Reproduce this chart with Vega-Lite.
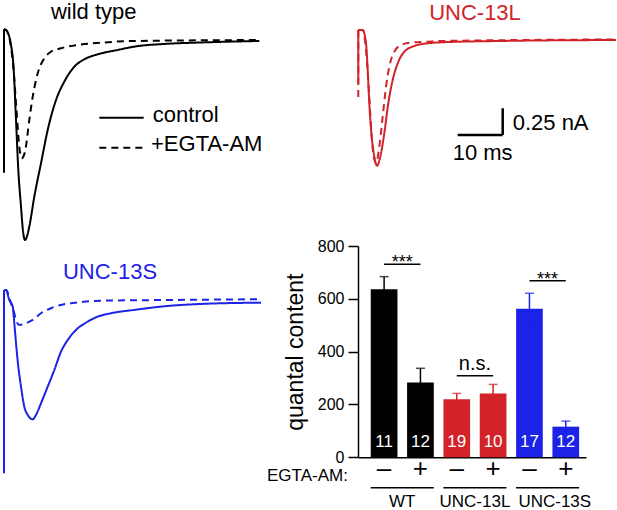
{
  "$schema": "https://vega.github.io/schema/vega-lite/v6.json",
  "padding": 0,
  "background": "white",
  "config": {"view": {"stroke": null}, "font": "Liberation Sans", "text": {"font": "Liberation Sans"}},
  "datasets": {
    "traces": [
      {"g":"WT","c":"control","t":0,"i":0.11},{"g":"WT","c":"control","t":0.44,"i":0.103},{"g":"WT","c":"control","t":1.56,"i":-0.037},{"g":"WT","c":"control","t":2.16,"i":-0.272},{"g":"WT","c":"control","t":2.67,"i":-0.74},{"g":"WT","c":"control","t":3.18,"i":-1.209},{"g":"WT","c":"control","t":3.78,"i":-1.553},{"g":"WT","c":"control","t":4.22,"i":-1.78},{"g":"WT","c":"control","t":4.67,"i":-1.865},{"g":"WT","c":"control","t":5.11,"i":-1.83},{"g":"WT","c":"control","t":5.62,"i":-1.74},{"g":"WT","c":"control","t":6.73,"i":-1.459},{"g":"WT","c":"control","t":8.22,"i":-1.146},{"g":"WT","c":"control","t":9.71,"i":-0.834},{"g":"WT","c":"control","t":11.56,"i":-0.553},{"g":"WT","c":"control","t":13.4,"i":-0.381},{"g":"WT","c":"control","t":15.62,"i":-0.241},{"g":"WT","c":"control","t":17.84,"i":-0.172},{"g":"WT","c":"control","t":20.82,"i":-0.125},{"g":"WT","c":"control","t":25.27,"i":-0.084},{"g":"WT","c":"control","t":28.96,"i":-0.053},{"g":"WT","c":"control","t":36.38,"i":-0.026},{"g":"WT","c":"control","t":43.78,"i":-0.014},{"g":"WT","c":"control","t":56.73,"i":0},
      {"g":"WT","c":"EGTA","t":0,"i":0.11},{"g":"WT","c":"EGTA","t":0.44,"i":0.103},{"g":"WT","c":"EGTA","t":1.93,"i":-0.178},{"g":"WT","c":"EGTA","t":2.67,"i":-0.584},{"g":"WT","c":"EGTA","t":3.4,"i":-0.991},{"g":"WT","c":"EGTA","t":3.93,"i":-1.099},{"g":"WT","c":"EGTA","t":4.67,"i":-1.037},{"g":"WT","c":"EGTA","t":5.62,"i":-0.74},{"g":"WT","c":"EGTA","t":6.38,"i":-0.522},{"g":"WT","c":"EGTA","t":7.49,"i":-0.303},{"g":"WT","c":"EGTA","t":8.96,"i":-0.162},{"g":"WT","c":"EGTA","t":10.44,"i":-0.1},{"g":"WT","c":"EGTA","t":12.67,"i":-0.068},{"g":"WT","c":"EGTA","t":16.38,"i":-0.037},{"g":"WT","c":"EGTA","t":21.56,"i":-0.016},{"g":"WT","c":"EGTA","t":28.9,"i":0},{"g":"WT","c":"EGTA","t":56.73,"i":0.009},
      {"g":"L","c":"control","t":0,"i":0.094},{"g":"L","c":"control","t":0.98,"i":0.094},{"g":"L","c":"control","t":1.71,"i":-0.031},{"g":"L","c":"control","t":2.09,"i":-0.281},{"g":"L","c":"control","t":2.44,"i":-0.593},{"g":"L","c":"control","t":2.98,"i":-0.906},{"g":"L","c":"control","t":3.56,"i":-1.094},{"g":"L","c":"control","t":4.16,"i":-1.178},{"g":"L","c":"control","t":4.89,"i":-1.094},{"g":"L","c":"control","t":5.78,"i":-0.874},{"g":"L","c":"control","t":6.67,"i":-0.593},{"g":"L","c":"control","t":7.64,"i":-0.375},{"g":"L","c":"control","t":8.76,"i":-0.218},{"g":"L","c":"control","t":10.22,"i":-0.11},{"g":"L","c":"control","t":12.44,"i":-0.056},{"g":"L","c":"control","t":15.42,"i":-0.031},{"g":"L","c":"control","t":18.38,"i":-0.022},{"g":"L","c":"control","t":31.7,"i":-0.009},{"g":"L","c":"control","t":57.27,"i":0},
      {"g":"L","c":"EGTA","t":0,"i":0.094},{"g":"L","c":"EGTA","t":0.98,"i":0.094},{"g":"L","c":"EGTA","t":1.71,"i":-0.094},{"g":"L","c":"EGTA","t":2.44,"i":-0.531},{"g":"L","c":"EGTA","t":2.98,"i":-0.906},{"g":"L","c":"EGTA","t":3.42,"i":-1.094},{"g":"L","c":"EGTA","t":3.93,"i":-1.156},{"g":"L","c":"EGTA","t":4.67,"i":-1.0},{"g":"L","c":"EGTA","t":5.42,"i":-0.719},{"g":"L","c":"EGTA","t":6.16,"i":-0.438},{"g":"L","c":"EGTA","t":6.89,"i":-0.25},{"g":"L","c":"EGTA","t":8.0,"i":-0.11},{"g":"L","c":"EGTA","t":9.49,"i":-0.047},{"g":"L","c":"EGTA","t":11.71,"i":-0.025},{"g":"L","c":"EGTA","t":15.42,"i":-0.016},{"g":"L","c":"EGTA","t":18.38,"i":-0.009},{"g":"L","c":"EGTA","t":57.27,"i":0.005},
      {"g":"S","c":"control","t":0,"i":0.103},{"g":"S","c":"control","t":0.44,"i":0.103},{"g":"S","c":"control","t":1.18,"i":0.009},{"g":"S","c":"control","t":1.93,"i":-0.053},{"g":"S","c":"control","t":2.29,"i":-0.209},{"g":"S","c":"control","t":2.67,"i":-0.396},{"g":"S","c":"control","t":3.18,"i":-0.616},{"g":"S","c":"control","t":3.78,"i":-0.803},{"g":"S","c":"control","t":4.51,"i":-0.991},{"g":"S","c":"control","t":5.27,"i":-1.068},{"g":"S","c":"control","t":6.38,"i":-1.109},{"g":"S","c":"control","t":7.11,"i":-1.068},{"g":"S","c":"control","t":8.22,"i":-0.959},{"g":"S","c":"control","t":9.71,"i":-0.803},{"g":"S","c":"control","t":11.18,"i":-0.647},{"g":"S","c":"control","t":12.67,"i":-0.475},{"g":"S","c":"control","t":14.16,"i":-0.366},{"g":"S","c":"control","t":16.0,"i":-0.272},{"g":"S","c":"control","t":18.6,"i":-0.194},{"g":"S","c":"control","t":20.82,"i":-0.147},{"g":"S","c":"control","t":23.78,"i":-0.115},{"g":"S","c":"control","t":28.96,"i":-0.084},{"g":"S","c":"control","t":36.38,"i":-0.047},{"g":"S","c":"control","t":43.78,"i":-0.028},{"g":"S","c":"control","t":57.11,"i":-0.016},
      {"g":"S","c":"EGTA","t":0,"i":0.103},{"g":"S","c":"EGTA","t":0.44,"i":0.103},{"g":"S","c":"EGTA","t":1.56,"i":-0.022},{"g":"S","c":"EGTA","t":2.29,"i":-0.115},{"g":"S","c":"EGTA","t":2.67,"i":-0.178},{"g":"S","c":"EGTA","t":3.4,"i":-0.225},{"g":"S","c":"EGTA","t":4.89,"i":-0.209},{"g":"S","c":"EGTA","t":6.38,"i":-0.178},{"g":"S","c":"EGTA","t":8.22,"i":-0.115},{"g":"S","c":"EGTA","t":10.44,"i":-0.068},{"g":"S","c":"EGTA","t":12.67,"i":-0.037},{"g":"S","c":"EGTA","t":14.89,"i":-0.022},{"g":"S","c":"EGTA","t":21.56,"i":0.003},{"g":"S","c":"EGTA","t":36.38,"i":0.009},{"g":"S","c":"EGTA","t":57.11,"i":0.016}
    ],
    "artifacts": [
      {"g":"WT","c":"control","t":0,"top":0.11,"bot":-1.234},
      {"g":"L","c":"EGTA","t":0,"top":0.094,"bot":-0.562},
      {"g":"L","c":"control","t":0,"top":0.094,"bot":-0.406},
      {"g":"S","c":"control","t":0,"top":0.103,"bot":-1.615}
    ],
    "bars": [
      {"k":"WT –","g":"WT","egta":"–","v":636,"lo":590,"hi":684,"n":11},
      {"k":"WT +","g":"WT","egta":"+","v":283,"lo":230,"hi":337,"n":12},
      {"k":"L –","g":"L","egta":"–","v":220,"lo":198,"hi":242,"n":19},
      {"k":"L +","g":"L","egta":"+","v":242,"lo":208,"hi":276,"n":10},
      {"k":"S –","g":"S","egta":"–","v":562,"lo":503,"hi":621,"n":17},
      {"k":"S +","g":"S","egta":"+","v":116,"lo":95,"hi":137,"n":12}
    ],
    "sig": [
      {"a":"WT –","b":"WT +","h":731,"label":"***"},
      {"a":"L –","b":"L +","h":309,"label":"n.s."},
      {"a":"S –","b":"S +","h":668,"label":"***"}
    ],
    "groups": [
      {"a":"WT –","b":"WT +","name":"WT"},
      {"a":"L –","b":"L +","name":"UNC-13L"},
      {"a":"S –","b":"S +","name":"UNC-13S"}
    ]
  },
  "columns": 2,
  "spacing": 0,
  "bounds": "flush",
  "concat": [
        {
          "width": 357, "height": 246,
          "layer": [
            {"data": {"name": "artifacts"}, "transform": [{"filter": "datum.g === 'WT'"}],
             "mark": {"type": "rule", "color": "#000000", "strokeWidth": 2},
             "encoding": {
               "x": {"field": "t", "type": "quantitative", "scale": {"domain": [-0.667, 78.67], "nice": false, "zero": false}, "axis": null},
               "y": {"field": "top", "type": "quantitative", "scale": {"domain": [-1.921, 0.384], "nice": false, "zero": false}, "axis": null},
               "y2": {"field": "bot"},
               "strokeDash": {"field": "c", "type": "nominal", "scale": {"domain": ["control", "EGTA"], "range": [[1, 0], [7, 5]]}, "legend": null}}},
            {"data": {"name": "traces"}, "transform": [{"filter": "datum.g === 'WT'"}],
             "mark": {"type": "line", "color": "#000000", "strokeWidth": 2, "interpolate": "monotone"},
             "encoding": {
               "x": {"field": "t", "type": "quantitative", "scale": {"domain": [-0.667, 78.67], "nice": false, "zero": false}, "axis": null},
               "y": {"field": "i", "type": "quantitative", "scale": {"domain": [-1.921, 0.384], "nice": false, "zero": false}, "axis": null},
               "strokeDash": {"field": "c", "type": "nominal", "scale": {"domain": ["control", "EGTA"], "range": [[1, 0], [7, 5]]}, "legend": null}}},
            {"data": {"values": [{}]},
             "mark": {"type": "rule", "color": "#000000", "strokeWidth": 2},
             "encoding": {
               "x": {"datum": 21.18, "type": "quantitative", "scale": {"domain": [-0.667, 78.67], "nice": false, "zero": false}, "axis": null},
               "x2": {"datum": 31.04},
               "y": {"datum": -0.719, "type": "quantitative", "scale": {"domain": [-1.921, 0.384], "nice": false, "zero": false}, "axis": null}}},
            {"data": {"values": [{}]},
             "mark": {"type": "rule", "color": "#000000", "strokeWidth": 2, "strokeDash": [7, 5]},
             "encoding": {
               "x": {"datum": 21.18, "type": "quantitative", "scale": {"domain": [-0.667, 78.67], "nice": false, "zero": false}, "axis": null},
               "x2": {"datum": 31.04},
               "y": {"datum": -1.0, "type": "quantitative", "scale": {"domain": [-1.921, 0.384], "nice": false, "zero": false}, "axis": null}}},
            {"data": {"values": [{}]},
             "mark": {"type": "text", "text": "control", "fontSize": 22, "align": "left", "baseline": "alphabetic", "color": "#000000"},
             "encoding": {
               "x": {"datum": 33.04, "type": "quantitative", "scale": {"domain": [-0.667, 78.67], "nice": false, "zero": false}, "axis": null},
               "y": {"datum": -0.762, "type": "quantitative", "scale": {"domain": [-1.921, 0.384], "nice": false, "zero": false}, "axis": null}}},
            {"data": {"values": [{}]},
             "mark": {"type": "text", "text": "+EGTA-AM", "fontSize": 22, "align": "left", "baseline": "alphabetic", "color": "#000000"},
             "encoding": {
               "x": {"datum": 32.67, "type": "quantitative", "scale": {"domain": [-0.667, 78.67], "nice": false, "zero": false}, "axis": null},
               "y": {"datum": -1.031, "type": "quantitative", "scale": {"domain": [-1.921, 0.384], "nice": false, "zero": false}, "axis": null}}},
            {"data": {"values": [{}]},
             "mark": {"type": "text", "text": "wild type", "fontSize": 22, "align": "center", "baseline": "alphabetic", "color": "#000000"},
             "encoding": {
               "x": {"datum": 19.93, "type": "quantitative", "scale": {"domain": [-0.667, 78.67], "nice": false, "zero": false}, "axis": null},
               "y": {"datum": 0.206, "type": "quantitative", "scale": {"domain": [-1.921, 0.384], "nice": false, "zero": false}, "axis": null}}}
          ]
        },
        {
          "width": 260, "height": 246,
          "layer": [
            {"data": {"name": "artifacts"}, "transform": [{"filter": "datum.g === 'L'"}],
             "mark": {"type": "rule", "color": "#d2232a", "strokeWidth": 2},
             "encoding": {
               "x": {"field": "t", "type": "quantitative", "scale": {"domain": [-0.067, 57.71], "nice": false, "zero": false}, "axis": null},
               "y": {"field": "top", "type": "quantitative", "scale": {"domain": [-1.931, 0.375], "nice": false, "zero": false}, "axis": null},
               "y2": {"field": "bot"},
               "strokeDash": {"field": "c", "type": "nominal", "scale": {"domain": ["control", "EGTA"], "range": [[1, 0], [7, 5]]}, "legend": null}}},
            {"data": {"name": "traces"}, "transform": [{"filter": "datum.g === 'L'"}],
             "mark": {"type": "line", "color": "#d2232a", "strokeWidth": 2, "interpolate": "monotone"},
             "encoding": {
               "x": {"field": "t", "type": "quantitative", "scale": {"domain": [-0.067, 57.71], "nice": false, "zero": false}, "axis": null},
               "y": {"field": "i", "type": "quantitative", "scale": {"domain": [-1.931, 0.375], "nice": false, "zero": false}, "axis": null},
               "strokeDash": {"field": "c", "type": "nominal", "scale": {"domain": ["control", "EGTA"], "range": [[1, 0], [7, 5]]}, "legend": null}}},
            {"data": {"values": [{}]},
             "mark": {"type": "rule", "color": "#000000", "strokeWidth": 2.5},
             "encoding": {
               "x": {"datum": 22.09, "type": "quantitative", "scale": {"domain": [-0.067, 57.71], "nice": false, "zero": false}, "axis": null},
               "x2": {"datum": 32.09},
               "y": {"datum": -0.89, "type": "quantitative", "scale": {"domain": [-1.931, 0.375], "nice": false, "zero": false}, "axis": null}}},
            {"data": {"values": [{}]},
             "mark": {"type": "rule", "color": "#000000", "strokeWidth": 2.5},
             "encoding": {
               "x": {"datum": 32.09, "type": "quantitative", "scale": {"domain": [-0.067, 57.71], "nice": false, "zero": false}, "axis": null},
               "y": {"datum": -0.89, "type": "quantitative", "scale": {"domain": [-1.931, 0.375], "nice": false, "zero": false}, "axis": null},
               "y2": {"datum": -0.64}}},
            {"data": {"values": [{}]},
             "mark": {"type": "text", "text": "0.25 nA", "fontSize": 22, "align": "left", "baseline": "alphabetic", "color": "#000000"},
             "encoding": {
               "x": {"datum": 34.31, "type": "quantitative", "scale": {"domain": [-0.067, 57.71], "nice": false, "zero": false}, "axis": null},
               "y": {"datum": -0.843, "type": "quantitative", "scale": {"domain": [-1.931, 0.375], "nice": false, "zero": false}, "axis": null}}},
            {"data": {"values": [{}]},
             "mark": {"type": "text", "text": "10 ms", "fontSize": 22, "align": "left", "baseline": "alphabetic", "color": "#000000"},
             "encoding": {
               "x": {"datum": 20.98, "type": "quantitative", "scale": {"domain": [-0.067, 57.71], "nice": false, "zero": false}, "axis": null},
               "y": {"datum": -1.125, "type": "quantitative", "scale": {"domain": [-1.931, 0.375], "nice": false, "zero": false}, "axis": null}}},
            {"data": {"values": [{}]},
             "mark": {"type": "text", "text": "UNC-13L", "fontSize": 22, "align": "center", "baseline": "alphabetic", "color": "#d2232a"},
             "encoding": {
               "x": {"datum": 25.93, "type": "quantitative", "scale": {"domain": [-0.067, 57.71], "nice": false, "zero": false}, "axis": null},
               "y": {"datum": 0.192, "type": "quantitative", "scale": {"domain": [-1.931, 0.375], "nice": false, "zero": false}, "axis": null}}}
          ]
        },
        {
          "width": 357, "height": 264,
          "layer": [
            {"data": {"name": "artifacts"}, "transform": [{"filter": "datum.g === 'S'"}],
             "mark": {"type": "rule", "color": "#1c22e6", "strokeWidth": 2},
             "encoding": {
               "x": {"field": "t", "type": "quantitative", "scale": {"domain": [-0.667, 78.67], "nice": false, "zero": false}, "axis": null},
               "y": {"field": "top", "type": "quantitative", "scale": {"domain": [-1.959, 0.515], "nice": false, "zero": false}, "axis": null},
               "y2": {"field": "bot"},
               "strokeDash": {"field": "c", "type": "nominal", "scale": {"domain": ["control", "EGTA"], "range": [[1, 0], [7, 5]]}, "legend": null}}},
            {"data": {"name": "traces"}, "transform": [{"filter": "datum.g === 'S'"}],
             "mark": {"type": "line", "color": "#1c22e6", "strokeWidth": 2, "interpolate": "monotone"},
             "encoding": {
               "x": {"field": "t", "type": "quantitative", "scale": {"domain": [-0.667, 78.67], "nice": false, "zero": false}, "axis": null},
               "y": {"field": "i", "type": "quantitative", "scale": {"domain": [-1.959, 0.515], "nice": false, "zero": false}, "axis": null},
               "strokeDash": {"field": "c", "type": "nominal", "scale": {"domain": ["control", "EGTA"], "range": [[1, 0], [7, 5]]}, "legend": null}}},
            {"data": {"values": [{}]},
             "mark": {"type": "text", "text": "UNC-13S", "fontSize": 22, "align": "center", "baseline": "alphabetic", "color": "#1c22e6"},
             "encoding": {
               "x": {"datum": 23.56, "type": "quantitative", "scale": {"domain": [-0.667, 78.67], "nice": false, "zero": false}, "axis": null},
               "y": {"datum": 0.203, "type": "quantitative", "scale": {"domain": [-1.959, 0.515], "nice": false, "zero": false}, "axis": null}}}
          ]
        },
        {
          "width": 228, "height": 211.3,
          "layer": [
            {"data": {"name": "bars"},
             "mark": {"type": "bar"},
             "encoding": {
               "x": {"field": "k", "type": "nominal", "scale": {"domain": ["WT –", "WT +", "L –", "L +", "S –", "S +"], "paddingInner": 0.265, "paddingOuter": 0.27, "align": 0.65},
                     "axis": {"domain": true, "domainColor": "#000000", "domainWidth": 1.5, "ticks": false, "labels": false, "title": "EGTA-AM:", "titleX": -10.6, "titleY": 17.7, "titleAlign": "right", "titleBaseline": "middle", "titleAngle": 0, "titleFontSize": 17, "titleFontWeight": "normal", "titleColor": "#000000", "titleFont": "Liberation Sans"}},
               "y": {"field": "v", "type": "quantitative", "scale": {"domain": [0, 800], "nice": false, "zero": false},
                     "axis": {"values": [0, 200, 400, 600, 800], "grid": false, "domainColor": "#000000", "domainWidth": 1.5, "tickColor": "#000000", "tickWidth": 1.5, "tickSize": 10, "labelColor": "#000000", "labelFontSize": 16, "labelPadding": 4, "labelFont": "Liberation Sans", "title": "quantal content", "titleFontSize": 23, "titleFontWeight": "normal", "titleColor": "#000000", "titlePadding": 10, "titleFont": "Liberation Sans"}},
               "color": {"field": "g", "type": "nominal", "scale": {"domain": ["WT", "L", "S"], "range": ["#000000", "#d2232a", "#1c22e6"]}, "legend": null}}},
            {"data": {"name": "bars"},
             "mark": {"type": "rule", "strokeWidth": 1.5},
             "encoding": {
               "x": {"field": "k", "type": "nominal", "scale": {"domain": ["WT –", "WT +", "L –", "L +", "S –", "S +"], "paddingInner": 0.265, "paddingOuter": 0.27, "align": 0.65}},
               "y": {"field": "lo", "type": "quantitative", "scale": {"domain": [0, 800], "nice": false, "zero": false}},
               "y2": {"field": "hi"},
               "color": {"field": "g", "type": "nominal", "scale": {"domain": ["WT", "L", "S"], "range": ["#000000", "#d2232a", "#1c22e6"]}, "legend": null}}},
            {"data": {"name": "bars"},
             "mark": {"type": "tick", "orient": "horizontal", "size": 9, "thickness": 1.5},
             "encoding": {
               "x": {"field": "k", "type": "nominal", "scale": {"domain": ["WT –", "WT +", "L –", "L +", "S –", "S +"], "paddingInner": 0.265, "paddingOuter": 0.27, "align": 0.65}},
               "y": {"field": "hi", "type": "quantitative", "scale": {"domain": [0, 800], "nice": false, "zero": false}},
               "color": {"field": "g", "type": "nominal", "scale": {"domain": ["WT", "L", "S"], "range": ["#000000", "#d2232a", "#1c22e6"]}, "legend": null}}},
            {"data": {"name": "bars"},
             "mark": {"type": "tick", "orient": "horizontal", "size": 9, "thickness": 1.5},
             "encoding": {
               "x": {"field": "k", "type": "nominal", "scale": {"domain": ["WT –", "WT +", "L –", "L +", "S –", "S +"], "paddingInner": 0.265, "paddingOuter": 0.27, "align": 0.65}},
               "y": {"field": "lo", "type": "quantitative", "scale": {"domain": [0, 800], "nice": false, "zero": false}},
               "color": {"field": "g", "type": "nominal", "scale": {"domain": ["WT", "L", "S"], "range": ["#000000", "#d2232a", "#1c22e6"]}, "legend": null}}},
            {"data": {"name": "bars"},
             "mark": {"type": "text", "color": "#ffffff", "fontSize": 17, "baseline": "middle", "dy": -15.6},
             "encoding": {
               "x": {"field": "k", "type": "nominal", "scale": {"domain": ["WT –", "WT +", "L –", "L +", "S –", "S +"], "paddingInner": 0.265, "paddingOuter": 0.27, "align": 0.65}},
               "y": {"datum": 0, "type": "quantitative", "scale": {"domain": [0, 800], "nice": false, "zero": false}},
               "text": {"field": "n"}}},
            {"data": {"name": "bars"},
             "mark": {"type": "text", "color": "#000000", "fontSize": 26, "baseline": "middle", "dy": 11.5},
             "encoding": {
               "x": {"field": "k", "type": "nominal", "scale": {"domain": ["WT –", "WT +", "L –", "L +", "S –", "S +"], "paddingInner": 0.265, "paddingOuter": 0.27, "align": 0.65}},
               "y": {"datum": 0, "type": "quantitative", "scale": {"domain": [0, 800], "nice": false, "zero": false}},
               "text": {"field": "egta"}}},
            {"data": {"name": "sig"},
             "mark": {"type": "rule", "color": "#000000", "strokeWidth": 1.5},
             "encoding": {
               "x": {"field": "a", "type": "nominal", "bandPosition": 0.5, "scale": {"domain": ["WT –", "WT +", "L –", "L +", "S –", "S +"], "paddingInner": 0.265, "paddingOuter": 0.27, "align": 0.65}},
               "x2": {"field": "b", "bandPosition": 0.5},
               "y": {"field": "h", "type": "quantitative", "scale": {"domain": [0, 800], "nice": false, "zero": false}}}},
            {"data": {"name": "sig"}, "transform": [{"filter": "datum.label === '***'"}],
             "mark": {"type": "text", "color": "#000000", "fontSize": 18, "baseline": "alphabetic", "dy": 4, "dx": 4.8},
             "encoding": {
               "x": {"field": "a", "type": "nominal", "bandPosition": 1, "scale": {"domain": ["WT –", "WT +", "L –", "L +", "S –", "S +"], "paddingInner": 0.265, "paddingOuter": 0.27, "align": 0.65}},
               "y": {"field": "h", "type": "quantitative", "scale": {"domain": [0, 800], "nice": false, "zero": false}},
               "text": {"field": "label"}}},
            {"data": {"name": "sig"}, "transform": [{"filter": "datum.label === 'n.s.'"}],
             "mark": {"type": "text", "color": "#000000", "fontSize": 20, "baseline": "alphabetic", "dy": -5.7, "dx": 4.8},
             "encoding": {
               "x": {"field": "a", "type": "nominal", "bandPosition": 1, "scale": {"domain": ["WT –", "WT +", "L –", "L +", "S –", "S +"], "paddingInner": 0.265, "paddingOuter": 0.27, "align": 0.65}},
               "y": {"field": "h", "type": "quantitative", "scale": {"domain": [0, 800], "nice": false, "zero": false}},
               "text": {"field": "label"}}},
            {"data": {"name": "groups"},
             "mark": {"type": "rule", "color": "#000000", "strokeWidth": 1.5},
             "encoding": {
               "x": {"field": "a", "type": "nominal", "bandPosition": 0, "scale": {"domain": ["WT –", "WT +", "L –", "L +", "S –", "S +"], "paddingInner": 0.265, "paddingOuter": 0.27, "align": 0.65}},
               "x2": {"field": "b", "bandPosition": 1},
               "y": {"datum": -115, "type": "quantitative", "scale": {"domain": [0, 800], "nice": false, "zero": false}}}},
            {"data": {"name": "groups"}, "transform": [{"filter": "datum.name !== 'UNC-13S'"}],
             "mark": {"type": "text", "color": "#000000", "fontSize": 17, "baseline": "middle", "dx": 4.8},
             "encoding": {
               "x": {"field": "a", "type": "nominal", "bandPosition": 1, "scale": {"domain": ["WT –", "WT +", "L –", "L +", "S –", "S +"], "paddingInner": 0.265, "paddingOuter": 0.27, "align": 0.65}},
               "y": {"datum": -170, "type": "quantitative", "scale": {"domain": [0, 800], "nice": false, "zero": false}},
               "text": {"field": "name"}}},
            {"data": {"name": "groups"}, "transform": [{"filter": "datum.name === 'UNC-13S'"}],
             "mark": {"type": "text", "color": "#000000", "fontSize": 17, "baseline": "middle", "dx": 12},
             "encoding": {
               "x": {"field": "a", "type": "nominal", "bandPosition": 1, "scale": {"domain": ["WT –", "WT +", "L –", "L +", "S –", "S +"], "paddingInner": 0.265, "paddingOuter": 0.27, "align": 0.65}},
               "y": {"datum": -170, "type": "quantitative", "scale": {"domain": [0, 800], "nice": false, "zero": false}},
               "text": {"field": "name"}}}
          ]
        }
  ]
}
